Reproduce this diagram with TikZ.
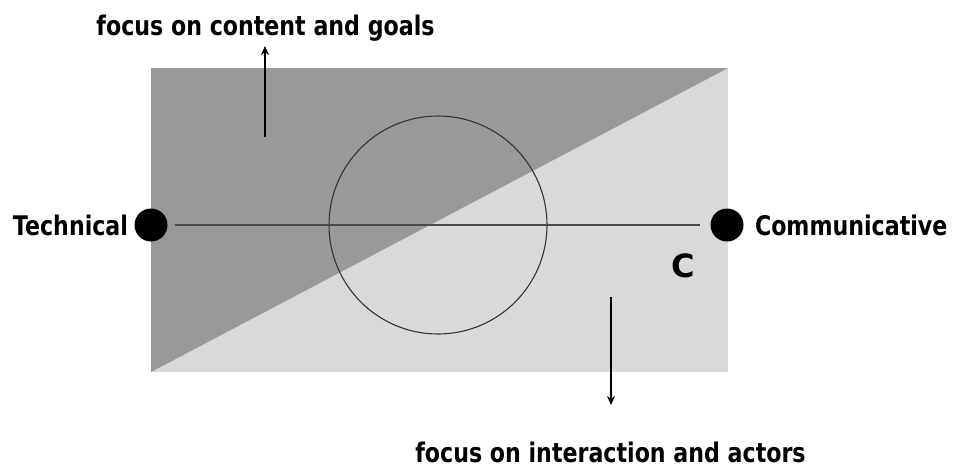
\documentclass[tikz,border=0pt]{standalone}
\usepackage{graphicx}
\usepackage{fontspec}
\setmainfont{DejaVu Sans}
\usetikzlibrary{arrows.meta}
\definecolor{darkfill}{HTML}{999999}
\definecolor{lightfill}{HTML}{D9D9D9}
\definecolor{axisline}{HTML}{4A4A4A}
\definecolor{ringline}{HTML}{333333}
\newcommand{\lbl}[1]{\scalebox{0.82}[1]{\fontsize{27}{30}\selectfont\bfseries #1}}
\begin{document}
\begin{tikzpicture}[x=1pt,y=-1pt,
  labeltext/.style={inner sep=0pt,outer sep=0pt},
  pole/.style={circle,fill=black,minimum size=33pt,inner sep=0pt},
  arr/.style={line width=1.5pt,-{Stealth[length=9pt,width=8pt]}}]
\useasboundingbox (0,0) rectangle (957,467);
% background fields
\fill[lightfill] (151,68) rectangle (728,372);
\fill[darkfill] (151,68) -- (728,68) -- (151,372) -- cycle;
% circle
\node[draw=ringline,line width=1.1pt,circle,minimum size=218pt,inner sep=0pt] (ring) at (438,225) {};
% poles
\node[pole] (tdot) at (151,225) {};
\node[pole] (cdot) at (727,225) {};
\draw[axisline,line width=2.6pt,shorten <=7pt,shorten >=10pt] (tdot.east) -- (cdot.west);
% labels
\node[labeltext,anchor=base east] (tech) at (128,235) {\lbl{Technical}};
\node[labeltext,anchor=base west] (comm) at (755,235) {\lbl{Communicative}};
\node[labeltext] (cl) at (683,266) {\fontsize{32}{34}\selectfont\bfseries C};
\node[labeltext,anchor=base] (toptext) at (265.5,35) {\lbl{focus on content and goals}};
\node[labeltext,anchor=base] (bottext) at (610.5,462) {\lbl{focus on interaction and actors}};
% arrows
\coordinate (up0) at (265,137);
\coordinate (up1) at (265,46);
\coordinate (dn0) at (611,297);
\coordinate (dn1) at (611,405);
\draw[arr] (up0) -- (up1);
\draw[arr] (dn0) -- (dn1);
\end{tikzpicture}
\end{document}
